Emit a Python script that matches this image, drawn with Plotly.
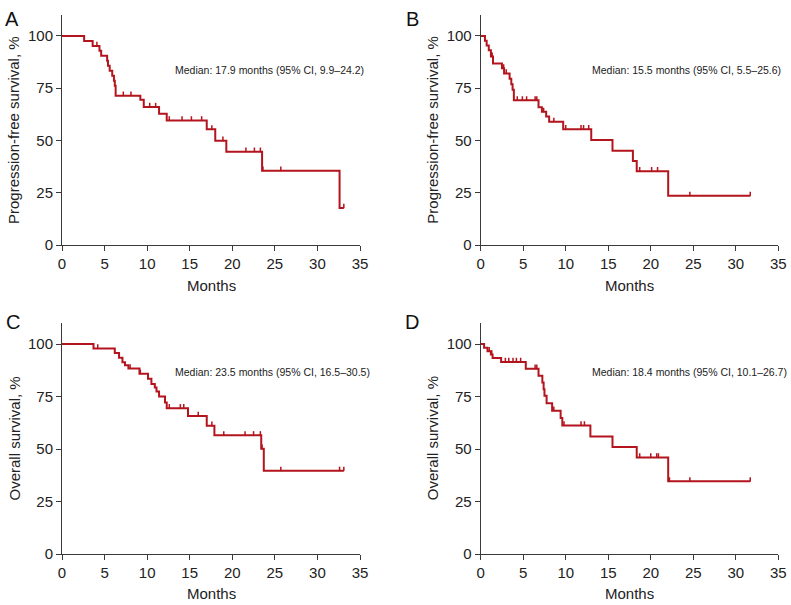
import plotly.graph_objects as go

LINE_COLOR = "#B3141D"
AXIS_COLOR = "#3a3a3a"
FONT = "Liberation Sans, Arial, sans-serif"

# Panel A: progression-free survival (event times, survival after each drop, censor times)
a_times = [0, 2.6, 3.6, 4.4, 4.6, 5.3, 5.4, 5.6, 5.9, 6.1, 6.2, 6.3, 9.2, 9.6, 11.4, 12.3, 17.0, 18.0, 19.3, 23.5, 32.6]
a_surv = [100, 97.6, 95.2, 92.9, 90.5, 88.1, 85.7, 83.3, 81.0, 78.6, 76.2, 71.4, 69.5, 66.0, 62.8, 59.6, 55.3, 49.9, 44.6, 35.5, 17.7]
a_censor = [4.1, 7.2, 8.1, 10.3, 11.0, 12.6, 14.1, 15.2, 16.4, 17.6, 18.9, 21.6, 22.6, 23.3, 23.6, 25.7, 33.1]

# Panel B: progression-free survival
b_times = [0, 0.5, 0.7, 0.95, 1.2, 1.45, 2.5, 2.75, 3.4, 3.6, 3.75, 3.9, 6.8, 7.2, 7.7, 8.05, 9.7, 13.0, 15.5, 17.9, 18.35, 22.05]
b_surv = [100, 97.7, 95.4, 93.1, 90.1, 86.8, 84.5, 82.0, 79.5, 76.9, 74.3, 69.2, 65.9, 63.7, 61.5, 58.9, 55.4, 50.2, 45.1, 40.2, 35.3, 23.5]
b_censor = [1.25, 1.35, 2.7, 3.0, 4.3, 4.9, 5.4, 6.4, 6.6, 7.4, 8.6, 10.0, 11.8, 12.1, 12.7, 18.7, 20.1, 20.8, 24.6, 31.7]

# Panel C: overall survival
c_times = [0, 3.7, 6.2, 6.7, 7.1, 7.4, 7.8, 9.1, 10.1, 10.5, 10.9, 11.1, 11.4, 12.1, 12.3, 14.8, 17.0, 17.9, 23.4, 23.7]
c_surv = [100, 97.9, 95.7, 93.5, 91.3, 89.9, 88.3, 85.8, 83.5, 81.0, 79.3, 77.4, 75.0, 72.2, 69.4, 65.7, 61.1, 56.5, 50.1, 39.6]
c_censor = [4.2, 8.0, 9.2, 12.6, 13.9, 14.3, 16.0, 17.6, 19.0, 21.5, 22.5, 23.3, 23.5, 25.7, 32.6, 33.1]

# Panel D: overall survival
d_times = [0, 0.4, 0.8, 1.2, 1.4, 2.4, 5.3, 6.8, 7.25, 7.4, 7.5, 7.75, 8.4, 9.4, 9.6, 12.9, 15.5, 18.35, 22.05]
d_surv = [100, 98.2, 96.6, 95.0, 93.3, 91.4, 88.2, 84.9, 81.7, 78.5, 75.3, 71.8, 68.2, 64.8, 61.2, 55.9, 51.0, 46.0, 34.6]
d_censor = [1.0, 1.3, 2.9, 3.3, 3.8, 4.2, 4.7, 6.4, 6.6, 8.6, 9.8, 11.8, 12.2, 18.7, 20.0, 20.7, 20.9, 22.2, 24.6, 31.7]

panel_letters = ["A", "B", "C", "D"]
y_titles = ["Progression-free survival, %", "Progression-free survival, %",
            "Overall survival, %", "Overall survival, %"]
median_texts = ["Median: 17.9 months (95% CI, 9.9–24.2)",
                "Median: 15.5 months (95% CI, 5.5–25.6)",
                "Median: 23.5 months (95% CI, 16.5–30.5)",
                "Median: 18.4 months (95% CI, 10.1–26.7)"]
x_ticks = [0, 5, 10, 15, 20, 25, 30, 35]
y_ticks = [0, 25, 50, 75, 100]

panels = [(a_times, a_surv, a_censor), (b_times, b_surv, b_censor),
          (c_times, c_surv, c_censor), (d_times, d_surv, d_censor)]

W, H = 791, 605
x_domains = [[62 / W, 360 / W], [480.7 / W, 778.3 / W]]
y_domains = [[1 - 245 / H, 1 - 15 / H], [1 - 554 / H, 1 - 323 / H]]
median_pos = [(13.0, 83.7), (12.9, 83.7), (13.0, 86.7), (12.9, 86.7)]
letter_pos = [(11.5, 19), (412.5, 19), (13, 321.5), (411.5, 321.5)]
ytitle_pos = [(14, 130), (432.7, 130), (14, 438.5), (432.7, 438.5)]
xtitle_pos = [(211, 285), (629.5, 285), (211, 593), (629.5, 593)]


def surv_at(times, surv, t):
    val = surv[0]
    for ti, si in zip(times, surv):
        if ti <= t:
            val = si
    return val


fig = go.Figure()
annotations = []
for i, (t, s, c) in enumerate(panels):
    xa = "x" if i == 0 else f"x{i + 1}"
    ya = "y" if i == 0 else f"y{i + 1}"
    end_t = max(c + t)
    fig.add_trace(go.Scatter(
        x=t + [end_t], y=s + [s[-1]], mode="lines",
        line=dict(shape="hv", color=LINE_COLOR, width=2),
        xaxis=xa, yaxis=ya, showlegend=False, hoverinfo="skip"))
    cy = [surv_at(t, s, v) for v in c]
    fig.add_trace(go.Scatter(
        x=c, y=cy, mode="markers",
        marker=dict(size=1, color=LINE_COLOR),
        error_y=dict(type="data", symmetric=False, array=[2.0] * len(c),
                     arrayminus=[0] * len(c), width=0, thickness=1.5,
                     color=LINE_COLOR),
        xaxis=xa, yaxis=ya, showlegend=False, hoverinfo="skip"))

    col = i % 2
    row = i // 2
    axis_common = dict(showline=True, linecolor=AXIS_COLOR, linewidth=1,
                       ticks="outside", ticklen=5, tickcolor=AXIS_COLOR,
                       tickwidth=1, showgrid=False, zeroline=False,
                       automargin=False,
                       tickfont=dict(family=FONT, size=15, color="#222"))
    fig.layout[f"xaxis{'' if i == 0 else i + 1}"] = dict(
        domain=x_domains[col], range=[0, 35], tickvals=x_ticks,
        anchor=ya, **axis_common)
    fig.layout[f"yaxis{'' if i == 0 else i + 1}"] = dict(
        domain=y_domains[row], range=[0, 110], tickvals=y_ticks,
        anchor=xa, **axis_common)

    mx, my = median_pos[i]
    annotations.append(dict(x=mx, y=my, xref=xa, yref=ya, text=median_texts[i],
                            showarrow=False, xanchor="left", yanchor="middle",
                            font=dict(family=FONT, size=10.5, color="#222")))
    lx, ly = letter_pos[i]
    annotations.append(dict(x=lx / W, y=1 - ly / H, xref="paper", yref="paper",
                            text=panel_letters[i], showarrow=False,
                            xanchor="center", yanchor="middle",
                            font=dict(family=FONT, size=20, color="#111")))
    tx, ty = ytitle_pos[i]
    annotations.append(dict(x=tx / W, y=1 - ty / H, xref="paper", yref="paper",
                            text=y_titles[i], showarrow=False, textangle=-90,
                            xanchor="center", yanchor="middle",
                            font=dict(family=FONT, size=15, color="#222")))
    hx, hy = xtitle_pos[i]
    annotations.append(dict(x=hx / W, y=1 - hy / H, xref="paper", yref="paper",
                            text="Months", showarrow=False,
                            xanchor="center", yanchor="middle",
                            font=dict(family=FONT, size=15, color="#222")))

fig.update_layout(width=W, height=H, margin=dict(l=0, r=0, t=0, b=0),
                  plot_bgcolor="white", paper_bgcolor="white",
                  annotations=annotations, showlegend=False)

fig.write_html("out.html", config={"displayModeBar": False},
               post_script="document.body.style.margin='0';document.body.style.overflow='hidden';")
